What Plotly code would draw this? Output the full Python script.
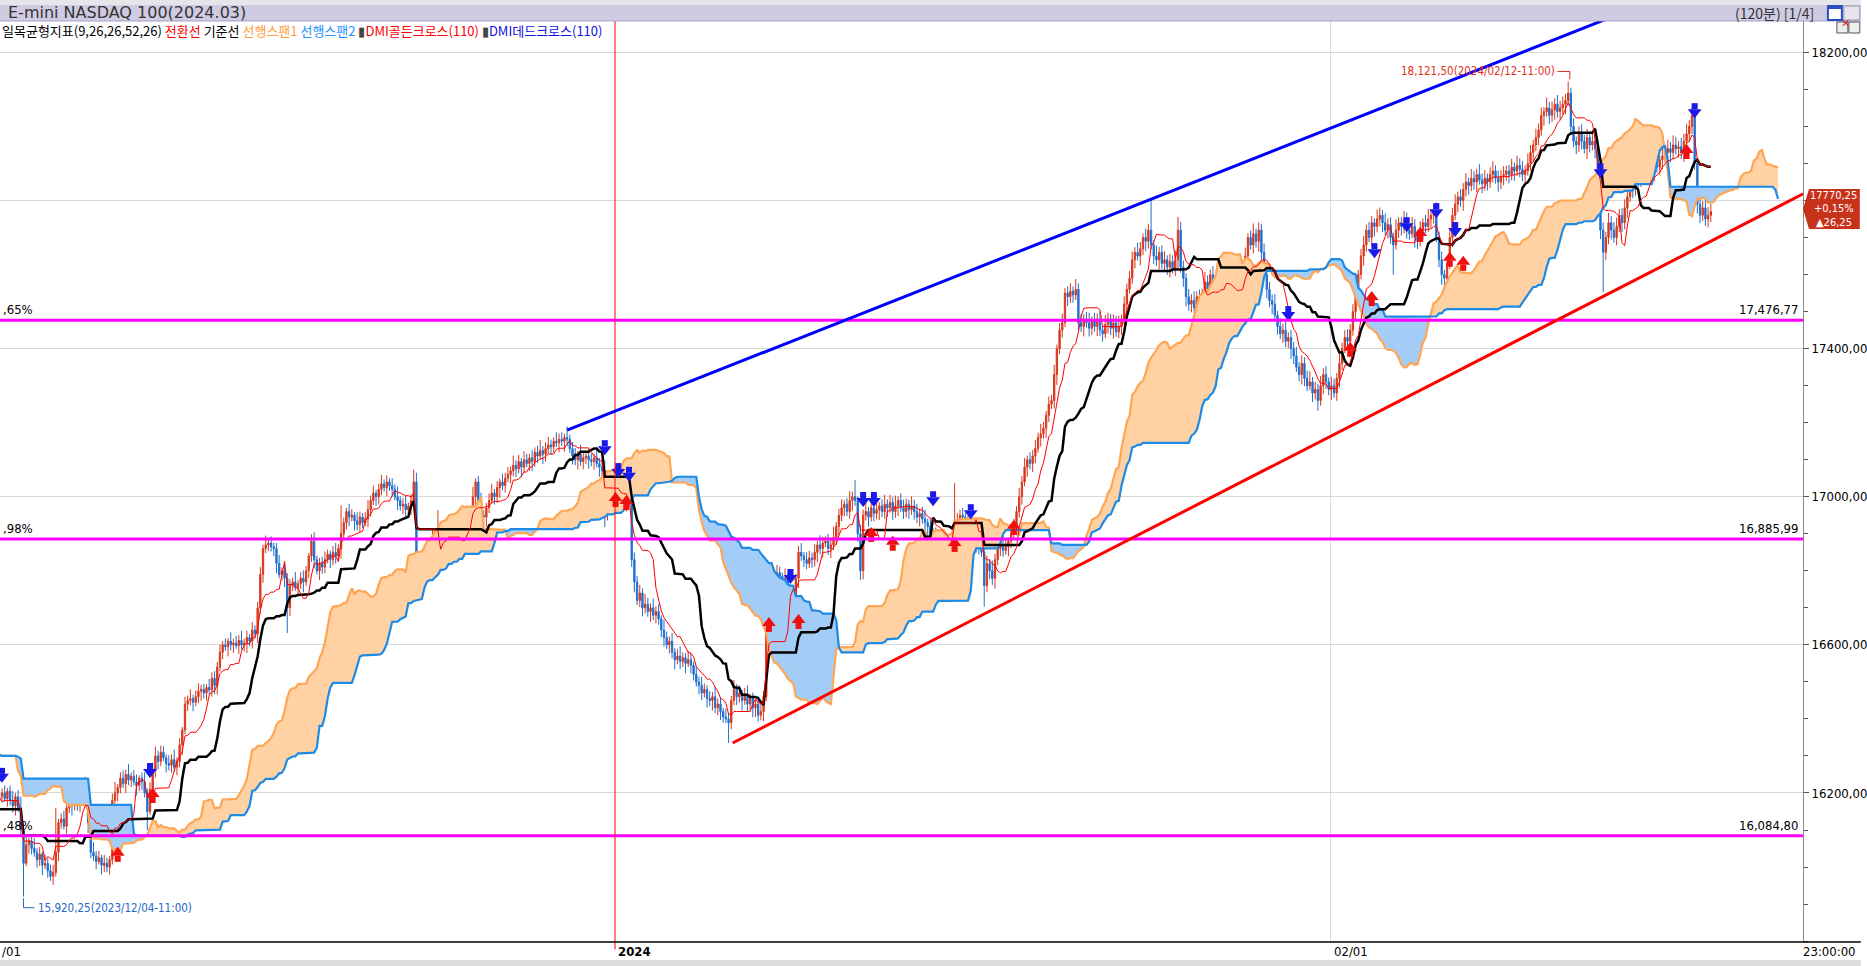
import numpy as np
import plotly.graph_objects as go

# ---------------- DATA ----------------
# hidden history bars (-78..-1) needed for the Ichimoku look-back
pre_close = [16230,16250,16220,16240,16260,16250,16270,16250,16240,16260,16280,16290,16270,16260,
             16240,16220,16200,16190,16210,16230,16220,16240,16260,16270,16280,16270,16290,16300,16280,
             16260,16270,16290,16300,16290,16280,16300,16320,16310,16290,16300,16320,16330,16310,16300,
             16320,16330,16340,16320,16330,16340,
             16260,
             16220,16190,16185,16210,16230,16220,16200,16210,16180,16170,
             16100,
             16120,16150,16170,16200,16230,16250,16240,16200,
             16170,16150,16160,16140,16160,16180,16170,16190]

# visible 120-minute bars 0..635 (close prices)
close = [16200,16185,16205,16180,16165,16190,16160,16100,16010,16060,
16070,16050,16040,16020,16035,16005,16010,15990,15975,15985,
16040,16120,16130,16110,16160,16175,16165,16185,16170,16180,
16190,16200,16120,16040,16030,16015,16025,16005,16010,16000,
16020,16180,16200,16215,16240,16225,16250,16235,16245,16230,
16220,16240,16230,16200,16150,16210,16260,16300,16285,16310,
16295,16280,16275,16290,16270,16285,16330,16370,16440,16450,
16455,16445,16460,16475,16480,16470,16485,16478,16510,16490,
16540,16580,16600,16595,16610,16600,16605,16598,16612,16600,
16605,16620,16610,16640,16630,16700,16790,16860,16870,16875,
16865,16860,16820,16790,16800,16780,16700,16760,16770,16755,
16765,16780,16770,16800,16840,16880,16830,16800,16820,16810,
16830,16845,16830,16850,16840,16860,16900,16930,16960,16945,
16950,16935,16925,16945,16930,16940,16965,16990,17010,17000,
17020,17035,17025,17040,17030,17020,17000,16990,16975,16980,
16965,16975,16990,17040,16780,16800,16820,16845,16860,16870,
16890,16870,16900,16880,16860,16890,16905,16920,16910,16925,
16915,16900,16920,16930,16950,17000,17040,16990,16950,16945,
16970,16990,17010,17000,17025,17040,17030,17050,17060,17070,
17085,17075,17095,17080,17100,17090,17105,17095,17120,17110,
17125,17115,17130,17140,17135,17150,17145,17155,17150,17160,
17155,17130,17110,17100,17115,17095,17105,17110,17100,17095,
17105,17090,17080,17070,16960,17010,17000,17030,17010,16990,
17000,16985,17010,16990,16830,16770,16720,16740,16700,16710,
16690,16700,16680,16690,16670,16640,16620,16600,16610,16580,
16560,16570,16555,16565,16550,16560,16545,16520,16500,16490,
16470,16480,16455,16450,16460,16430,16440,16420,16405,16400,
16390,16450,16480,16460,16470,16450,16465,16440,16455,16430,
16440,16410,16420,16460,16660,16800,16790,16780,16795,16785,
16770,16780,16740,16700,16720,16780,16850,16840,16830,16820,
16835,16830,16850,16870,16860,16875,16880,16860,16870,16890,
16920,16950,16970,16980,16960,16990,17000,16990,16900,16800,
16950,16960,16945,16970,16955,16965,16975,16960,16980,16970,
16985,16960,16975,16990,16970,16960,16980,16965,16975,16960,
16945,16955,16940,16930,16920,16900,16890,16880,16875,16870,
16860,16850,16845,16860,16880,16930,16950,16945,16930,16920,
16905,16880,16870,16860,16850,16760,16820,16800,16780,16830,
16860,16870,16855,16865,16880,16900,16920,16960,17000,17040,
17080,17100,17090,17110,17130,17160,17170,17185,17220,17250,
17260,17330,17400,17450,17470,17550,17540,17555,17545,17560,
17470,17460,17480,17470,17455,17475,17460,17480,17450,17440,
17465,17480,17455,17470,17445,17460,17480,17520,17560,17590,
17640,17660,17650,17670,17700,17690,17720,17680,17650,17640,
17660,17630,17640,17620,17635,17615,17640,17720,17620,17590,
17540,17520,17530,17510,17540,17520,17550,17580,17560,17600,
17570,17550,17580,17560,17590,17570,17540,17560,17530,17550,
17560,17600,17650,17700,17680,17710,17690,17720,17660,17600,
17560,17530,17520,17490,17460,17440,17450,17420,17430,17400,
17380,17350,17330,17360,17320,17300,17310,17280,17290,17260,
17300,17330,17310,17290,17300,17280,17320,17360,17400,17430,
17420,17450,17500,17560,17600,17650,17680,17720,17700,17740,
17730,17750,17760,17740,17720,17735,17700,17680,17720,17740,
17730,17750,17720,17710,17730,17700,17690,17720,17740,17730,
17750,17760,17770,17700,17640,17600,17590,17630,17700,17760,
17790,17810,17800,17830,17850,17840,17860,17850,17870,17855,
17845,17860,17850,17870,17880,17860,17850,17865,17870,17880,
17870,17890,17880,17895,17885,17870,17880,17900,17930,17950,
17970,17990,18030,18040,18050,18030,18045,18060,18040,18050,
18060,18070,18090,18000,17960,17950,17980,17960,17940,17970,
17950,17960,17940,17800,17720,17660,17700,17740,17720,17700,
17730,17760,17740,17780,17810,17840,17830,17860,17850,17870,
17880,17870,17890,17880,17900,17890,17910,17920,17930,17940,
17930,17950,17940,17945,17930,17960,17980,18000,18030,17900,
17790,17760,17780,17750,17760,17770.25]

# upper / lower wick length of each visible bar (points beyond the body)
wick_up = [12,20,8,15,25,10,18,30,14,22,9,16,28,11,19,7,24,13,17,21,
26,10,15,22,8,18,30,12,20,14,9,25,16,11,27,13,19,8,23,15,
10,18,24,9,16,21,13,28,11,17,20,8,15,26,12,19,22,10,14,18,
16,9,22,14,27,11,18,8,20,13,25,10,17,21,12,15,9,23,16,19,
14,21,10,17,8,24,12,19,15,26,11,18,9,22,13,16,20,10,25,12,
18,11,15,23,9,20,14,17,12,27,10,16,21,13,8,19,24,11,15,18,
22,13,9,17,25,12,19,14,10,21,16,8,23,15,11,18,26,13,20,9,
15,24,12,18,10,20,14,28,11,16,22,9,17,13,25,10,19,15,21,12,
20,10,16,22,13,18,9,25,14,17,11,23,15,19,12,27,10,16,21,14,
13,19,25,11,17,9,22,15,20,12,26,14,18,10,23,16,11,21,13,18,
28,12,17,21,14,10,24,16,19,11,30,13,18,22,9,25,15,12,20,17,
11,23,15,19,26,13,10,21,17,14,28,12,18,24,9,20,16,22,13,27,
17,12,25,14,20,10,29,16,13,22,11,19,26,15,12,24,18,10,21,14,
24,16,11,20,13,27,15,18,10,23,17,12,25,14,21,9,19,26,13,16,
12,20,28,15,18,11,24,13,21,16,10,26,14,19,22,12,17,25,11,20,
19,14,22,10,26,17,13,20,15,29,12,18,23,11,16,25,14,21,10,24,
15,27,12,21,16,23,10,18,25,13,20,14,28,11,19,22,15,12,26,17,
21,13,18,25,11,20,16,27,14,19,12,24,17,22,10,26,15,20,13,23,
14,22,17,11,26,15,21,12,28,16,19,13,24,18,10,25,20,14,23,16,
25,11,20,16,23,13,27,17,12,21,15,26,11,19,24,14,18,22,13,28,
16,24,13,19,27,12,22,15,20,11,25,17,14,23,18,29,12,21,16,20,
22,14,26,18,11,24,16,21,13,28,15,19,23,12,20,17,25,14,22,18,
13,21,17,25,15,20,12,27,18,14,23,16,26,11,21,19,24,15,13,22,
26,15,23,12,19,28,14,21,17,24,13,20,16,27,12,22,18,25,14,21,
18,25,14,22,16,21,29,13,20,15,26,17,23,12,24,19,14,28,16,20,
23,16,20,27,13,19,24,15,22,18,12,26,21,14,25,17,20,13,29,15,
15,22,18,13,26,20,16,24,12,21,27,14,19,25,16,22,13,18,24,20,
27,14,21,17,24,12,25,19,15,28,18,22,13,20,26,15,21,17,23,14,
16,23,13,26,19,22,15,27,20,14,24,18,21,12,28,17,23,16,25,19,
21,18,25,15,22,13,20,26,17,23,14,29,16,24,19,21,15,27,18,22,
24,17,19,23,14,26,21,16,28,18,22,15,25,20,17,27,13,23,19,24,
18,26,22,15,24,20,27,17,21,25,16,23,19,28,22,20]
wick_dn = [15,9,22,13,18,26,11,20,14,8,24,16,12,21,17,27,10,19,13,23,
11,24,17,9,20,14,26,12,18,22,15,10,28,16,13,21,8,25,19,14,
20,13,8,23,16,11,25,14,19,10,27,15,22,12,17,9,24,18,21,13,
9,25,14,20,12,22,16,28,11,19,13,24,10,17,26,15,21,12,18,23,
24,12,19,11,26,15,21,9,23,13,18,27,14,20,10,25,16,22,12,17,
13,20,26,10,17,24,12,22,15,9,21,14,28,11,19,16,23,10,25,18,
17,10,23,15,20,13,27,11,18,24,12,26,16,21,14,9,22,19,13,25,
21,16,11,24,14,19,9,26,13,22,17,12,25,15,20,28,11,23,16,10,
12,23,18,13,25,10,22,16,27,11,20,15,9,24,18,13,26,12,19,21,
26,14,10,21,17,28,13,19,11,24,15,22,12,27,16,10,20,25,14,18,
10,27,20,14,22,16,11,25,13,28,18,12,23,15,26,11,21,17,24,13,
22,11,26,17,12,24,19,14,27,10,21,16,25,12,20,28,13,18,23,15,
14,28,13,22,16,19,25,11,23,17,26,12,20,15,27,10,22,16,13,24,
19,12,24,16,27,14,20,23,15,11,25,18,13,22,16,28,12,21,17,26,
25,17,14,26,12,21,16,28,13,19,23,15,22,11,24,18,27,13,20,16,
13,22,18,27,15,24,11,17,26,14,20,25,16,23,12,19,28,15,21,13,
23,14,26,12,21,16,28,15,19,24,13,22,17,27,11,20,16,25,14,22,
16,25,13,20,28,17,12,23,18,14,26,19,11,24,21,15,27,13,22,18,
27,13,21,16,12,25,18,22,14,28,15,20,17,11,26,19,13,24,16,21,
12,26,16,23,19,11,24,14,27,18,13,22,28,15,20,12,25,17,21,14,
20,15,27,13,22,18,14,26,16,21,12,24,19,28,13,17,23,15,26,11,
15,23,12,25,17,27,20,13,22,16,26,14,18,21,28,12,19,24,15,23,
26,18,22,14,28,12,25,19,15,23,17,21,13,27,16,24,11,20,26,17,
14,21,26,19,13,23,17,28,20,12,24,18,27,15,22,14,25,16,19,28,
22,13,18,27,21,15,12,24,17,26,14,23,19,16,28,13,21,25,18,12,
17,28,15,21,24,13,26,18,12,22,27,16,20,25,14,23,17,28,13,21,
25,19,23,16,12,27,21,14,26,18,15,24,22,13,20,28,17,23,15,26,
13,22,17,28,19,24,15,21,27,12,25,18,23,16,21,14,26,19,24,17,
24,16,27,14,22,18,26,13,20,25,17,21,15,28,14,23,18,27,16,22,
18,27,14,23,16,25,19,22,13,28,20,15,26,17,24,12,21,18,25,14,
21,15,25,18,27,14,23,17,26,13,24,19,16,22,28,15,20,26,17,23,
27,19,16,24,18,26,14,22,20,17,25,21,15,19,23,18]

# wick extremes that reach well beyond the candle bodies (bar index -> price)
wick_high = {-28: 16416, 8: 16110, 20: 16160, 31: 16243, 42: 16230, 57: 16325, 115: 16892,
             126: 16977, 153: 17073, 162: 16964, 176: 17045, 210: 17172, 224: 17098, 285: 16810,
             317: 17045, 354: 17037, 399: 17567, 427: 17801, 437: 17756, 512: 17780, 532: 17790,
             582: 18121.5, 628: 18036}
wick_low = {-17: 16062, 8: 15920.25, 18: 15965, 20: 16000, 54: 16100, 106: 16632, 154: 16767,
            164: 16818, 224: 16918, 234: 16810, 270: 16335, 319: 16775, 365: 16703, 368: 16762,
            489: 17232, 495: 17270, 517: 17600, 536: 17570, 595: 17553}

# DMI cross signals (bar index, price)
dead_bar = [0, 55, 224, 229, 233, 293, 320, 324, 346, 360, 478, 510, 522, 533, 540, 594, 629]
dead_px = [16249, 16262, 17134, 17072, 17062, 16786, 16994, 16994, 16996, 16961, 17496, 17666,
           17736, 17774, 17723, 17882, 18044]
gold_bar = [43, 56, 228, 232, 285, 296, 323, 331, 354, 376, 501, 509, 527, 538, 543, 626]
gold_px = [16033, 16192, 16991, 16983, 16654, 16662, 16897, 16873, 16870, 16916, 17397, 17534,
           17707, 17640, 17629, 17931]

levels = [17476.77, 16885.99, 16084.80]
level_right = ["17,476,77", "16,885,99", "16,084,80"]
level_left = [",65%", ",98%", ",48%"]

blue_trend = [(210, 17180), (600, 18301)]
red_trend = [(271.5, 16335), (669.3, 17818)]

ytick_vals = [16200, 16600, 17000, 17400, 17800, 18200]
ytick_text = ["16200,00", "16600,00", "17000,00", "17400,00", "", "18200,00"]
year_bar, feb_bar = 227.8, 493.7
price_tag = ["17770,25", "+0,15%", "▲26,25"]

# ---------------- BUILD OHLC ----------------
allc = pre_close + close
NPRE = len(pre_close)
N = len(allc)
O, H, L = [], [], []
for j, c in enumerate(allc):
    o = allc[j - 1] if j > 0 else c
    b = j - NPRE
    up = wick_up[b] if b >= 0 else 0
    dn = wick_dn[b] if b >= 0 else 0
    h = max(max(o, c) + up, wick_high.get(b, -1e9))
    lo = min(min(o, c) - dn, wick_low.get(b, 1e9))
    O.append(o); H.append(h); L.append(lo)
H = np.array(H, dtype=float); L = np.array(L, dtype=float)

def midline(n):
    out = np.full(N, np.nan)
    for k in range(n - 1, N):
        out[k] = (H[k - n + 1:k + 1].max() + L[k - n + 1:k + 1].min()) / 2
    return out

tenkan = midline(9)
kijun = midline(26)
span1 = (tenkan + kijun) / 2
span2 = midline(52)
SHIFT = 25
bars_all = np.arange(N) - NPRE

fig = go.Figure()

# cloud
ok = ~np.isnan(span2)
sx = bars_all[ok] + SHIFT
s1 = span1[ok]; s2 = span2[ok]
mx = np.maximum(s1, s2)
fig.add_trace(go.Scatter(x=sx, y=s2, mode="lines", line=dict(width=0), hoverinfo="skip", showlegend=False))
fig.add_trace(go.Scatter(x=sx, y=mx, mode="lines", line=dict(width=0), fill="tonexty",
                         fillcolor="#ffd1a3", hoverinfo="skip", showlegend=False))
fig.add_trace(go.Scatter(x=sx, y=s1, mode="lines", line=dict(width=0), hoverinfo="skip", showlegend=False))
fig.add_trace(go.Scatter(x=sx, y=mx, mode="lines", line=dict(width=0), fill="tonexty",
                         fillcolor="#a3cdf7", hoverinfo="skip", showlegend=False))
fig.add_trace(go.Scatter(x=sx, y=s1, mode="lines", line=dict(color="#ffa655", width=2.2), showlegend=False))
fig.add_trace(go.Scatter(x=sx, y=s2, mode="lines", line=dict(color="#1d8be6", width=2.2), showlegend=False))

# candles
vis = slice(NPRE, N)
fig.add_trace(go.Candlestick(
    x=bars_all[vis], open=O[NPRE:], high=list(H[vis]), low=list(L[vis]), close=close,
    increasing=dict(line=dict(color="#d8381c", width=1), fillcolor="#d8381c"),
    decreasing=dict(line=dict(color="#1f6fcf", width=1), fillcolor="#1f6fcf"),
    whiskerwidth=0, showlegend=False))

# kijun / tenkan
kx = bars_all >= -2
fig.add_trace(go.Scatter(x=bars_all[kx], y=kijun[kx], mode="lines", line=dict(color="black", width=2.5), showlegend=False))
fig.add_trace(go.Scatter(x=bars_all[kx], y=tenkan[kx], mode="lines", line=dict(color="#ff0000", width=1), showlegend=False))

# DMI arrows: block arrows made of a stem and a head
PXU = 2.7005  # price units per screen pixel
fig.add_trace(go.Scatter(x=dead_bar, y=[p + 4 * PXU for p in dead_px], mode="markers",
                         marker=dict(symbol="square", size=6, color="#1a1ae8", line=dict(width=0)), showlegend=False))
fig.add_trace(go.Scatter(x=dead_bar, y=[p - 2 * PXU for p in dead_px], mode="markers",
                         marker=dict(symbol="triangle-down", size=12, color="#1a1ae8", line=dict(width=0)), showlegend=False))
fig.add_trace(go.Scatter(x=gold_bar, y=[p - 4 * PXU for p in gold_px], mode="markers",
                         marker=dict(symbol="square", size=6, color="#f01010", line=dict(width=0)), showlegend=False))
fig.add_trace(go.Scatter(x=gold_bar, y=[p + 2 * PXU for p in gold_px], mode="markers",
                         marker=dict(symbol="triangle-up", size=12, color="#f01010", line=dict(width=0)), showlegend=False))

# ---------------- LAYOUT HELPERS ----------------
W, Hh = 1867, 966
PL, PR, PT, PB = 0, 1809, 21, 942
def px(x): return (x - PL) / (PR - PL)
def py(y): return (PB - y) / (PB - PT)

shapes = []
annotations = []
NUMF = "Liberation Sans Narrow, DejaVu Sans Condensed, sans-serif"
KRF = "Noto Sans CJK KR, sans-serif"

# magenta levels
for lv, rt, lt in zip(levels, level_right, level_left):
    shapes.append(dict(type="line", xref="paper", yref="y", x0=0, x1=1, y0=lv, y1=lv,
                       line=dict(color="#ff00ff", width=3), layer="above"))
    annotations.append(dict(xref="paper", yref="y", x=px(1807), y=lv, text=rt, showarrow=False,
                            xanchor="right", yanchor="bottom", yshift=1,
                            font=dict(family=NUMF, size=13, color="black")))
    annotations.append(dict(xref="paper", yref="y", x=px(1), y=lv, text=lt, showarrow=False,
                            xanchor="left", yanchor="bottom", yshift=1,
                            font=dict(family=NUMF, size=13, color="black")))

# year divider and Feb grid
shapes.append(dict(type="line", xref="x", yref="paper", x0=feb_bar, x1=feb_bar, y0=0, y1=1,
                   line=dict(color="#d9d9d9", width=1), layer="below"))
shapes.append(dict(type="line", xref="x", yref="paper", x0=year_bar, x1=year_bar, y0=-0.008, y1=1,
                   line=dict(color="#ff0000", width=1), layer="above"))

# trend lines
for (a, b), col in ((blue_trend, "#0000ff"), (red_trend, "#ff0000")):
    shapes.append(dict(type="line", xref="x", yref="y", x0=a[0], y0=a[1], x1=b[0], y1=b[1],
                       line=dict(color=col, width=3), layer="above"))

# high / low labels
hb, hp = 582, 18121.5
annotations.append(dict(xref="x", yref="y", x=hb, y=hp, text="18,121,50(2024/02/12-11:00)",
                        showarrow=False, xanchor="right", yanchor="middle", xshift=-11, yshift=10,
                        font=dict(family=NUMF, size=11.5, color="#e0301e")))
shapes.append(dict(type="line", xref="x", yref="y", x0=hb - 4, x1=hb + 0.6, y0=hp + 27, y1=hp + 27,
                   line=dict(color="#e0301e", width=1)))
shapes.append(dict(type="line", xref="x", yref="y", x0=hb + 0.6, x1=hb + 0.6, y0=hp + 27, y1=hp + 6,
                   line=dict(color="#e0301e", width=1)))
lb, lp = 8, 15920.25
annotations.append(dict(xref="x", yref="y", x=lb, y=lp, text="15,920,25(2023/12/04-11:00)",
                        showarrow=False, xanchor="left", yanchor="middle", xshift=12, yshift=-11,
                        font=dict(family=NUMF, size=11.5, color="#2466c8")))
shapes.append(dict(type="line", xref="x", yref="y", x0=lb, x1=lb, y0=lp - 5, y1=lp - 30,
                   line=dict(color="#2466c8", width=1)))
shapes.append(dict(type="line", xref="x", yref="y", x0=lb, x1=lb + 4, y0=lp - 30, y1=lp - 30,
                   line=dict(color="#2466c8", width=1)))

# header bars
shapes.append(dict(type="rect", xref="paper", yref="paper", x0=px(0), x1=px(W), y0=py(0), y1=py(5),
                   fillcolor="#e6e6ea", line=dict(width=0), layer="above"))
shapes.append(dict(type="rect", xref="paper", yref="paper", x0=px(0), x1=px(W), y0=py(5), y1=py(21),
                   fillcolor="#cfcbe3", line=dict(width=0), layer="above"))
shapes.append(dict(type="line", xref="paper", yref="paper", x0=px(0), x1=px(W), y0=py(21), y1=py(21),
                   line=dict(color="#a8a4c4", width=1), layer="above"))
annotations.append(dict(xref="paper", yref="paper", x=px(6), y=py(13), text="E-mini NASDAQ 100(2024.03)",
                        showarrow=False, xanchor="left", yanchor="middle",
                        font=dict(family="DejaVu Sans, sans-serif", size=16, color="#333333")))
annotations.append(dict(xref="paper", yref="paper", x=px(1822), y=py(13), text="(120분) [1/4]",
                        showarrow=False, xanchor="right", yanchor="middle",
                        font=dict(family=KRF, size=14, color="#333333")))
shapes.append(dict(type="rect", xref="paper", yref="paper", x0=px(1834), x1=px(1848), y0=py(6), y1=py(20),
                   fillcolor="#ffffff", line=dict(color="#2a4fc0", width=2), layer="above"))
shapes.append(dict(type="rect", xref="paper", yref="paper", x0=px(1834), x1=px(1848), y0=py(6), y1=py(9),
                   fillcolor="#2a4fc0", line=dict(width=0), layer="above"))
shapes.append(dict(type="rect", xref="paper", yref="paper", x0=px(1850), x1=px(1866), y0=py(6), y1=py(20),
                   fillcolor="#e8e4ee", line=dict(color="#9a96b0", width=1), layer="above"))
annotations.append(dict(xref="paper", yref="paper", x=px(1858), y=py(13), text="✕", showarrow=False,
                        font=dict(size=11, color="#c83030")))
for bx in (1843, 1855):
    shapes.append(dict(type="rect", xref="paper", yref="paper", x0=px(bx), x1=px(bx + 11), y0=py(22), y1=py(33),
                       fillcolor="#eeeeee", line=dict(color="#555555", width=1), layer="above"))

# legend line
legend = ('일목균형지표(9,26,26,52,26) <span style="color:#ff0000">전환선</span> 기준선 '
          '<span style="color:#ff9b3c">선행스팬1</span> <span style="color:#1e8fff">선행스팬2</span> '
          '<span style="color:#444">▮</span><span style="color:#ff0000">DMI골든크로스(110)</span> '
          '<span style="color:#444">▮</span><span style="color:#1010dd">DMI데드크로스(110)</span>')
annotations.append(dict(xref="paper", yref="paper", x=px(0), y=py(30), text=legend, showarrow=False,
                        xanchor="left", yanchor="middle", font=dict(family=KRF, size=13, color="black")))

# price tag
tag = (f"M {px(1809)},{py(209)} L {px(1815)},{py(189)} L {px(1866)},{py(189)} "
       f"L {px(1866)},{py(229)} L {px(1815)},{py(229)} Z")
shapes.append(dict(type="path", xref="paper", yref="paper", path=tag, fillcolor="#c8321b",
                   line=dict(width=0), layer="above"))
for t, yy in zip(price_tag, (196, 209, 222)):
    annotations.append(dict(xref="paper", yref="paper", x=px(1840), y=py(yy), text=t, showarrow=False,
                            xanchor="center", yanchor="middle",
                            font=dict(family=NUMF, size=11, color="white")))

# bottom axis
shapes.append(dict(type="line", xref="paper", yref="paper", x0=px(0), x1=px(W), y0=0, y1=0,
                   line=dict(color="black", width=1.5), layer="above"))
shapes.append(dict(type="rect", xref="paper", yref="paper", x0=px(0), x1=px(W), y0=py(960), y1=py(966),
                   fillcolor="#dcdcdc", line=dict(width=0), layer="above"))
for t, xx, anc, bold in (("/01", 0, "left", False), ("2024", 618, "left", True),
                         ("02/01", 1336, "left", False), ("23:00:00", 1864, "right", False)):
    annotations.append(dict(xref="paper", yref="paper", x=px(xx), y=py(951),
                            text=f"<b>{t}</b>" if bold else t, showarrow=False,
                            xanchor=anc, yanchor="middle",
                            font=dict(family=NUMF, size=13, color="black")))

fig.update_layout(
    width=W, height=Hh, autosize=False,
    margin=dict(l=PL, r=W - PR, t=PT, b=Hh - PB, pad=0),
    paper_bgcolor="white", plot_bgcolor="white",
    showlegend=False, shapes=shapes, annotations=annotations,
    xaxis=dict(range=[(0 - 2) / 2.7, (1809 - 2) / 2.7], showgrid=False, zeroline=False,
               showticklabels=False, rangeslider=dict(visible=False), fixedrange=True),
    yaxis=dict(side="right", range=[15797.6, 18284.8], tickmode="array", tickvals=ytick_vals,
               ticktext=ytick_text, showgrid=True, gridcolor="#d9d9d9", gridwidth=1, zeroline=False,
               ticks="outside", ticklen=5, tickcolor="#555", showline=True, linecolor="#8a8a8a",
               linewidth=1, tickfont=dict(family=NUMF, size=13, color="black"),
               minor=dict(tickvals=list(range(15800, 18300, 100)), ticks="outside", ticklen=4,
                          tickcolor="#555", showgrid=False)),
)

fig.write_html("out.html", config={"displayModeBar": False},
               post_script="document.body.style.margin='0';document.body.style.overflow='hidden';")
